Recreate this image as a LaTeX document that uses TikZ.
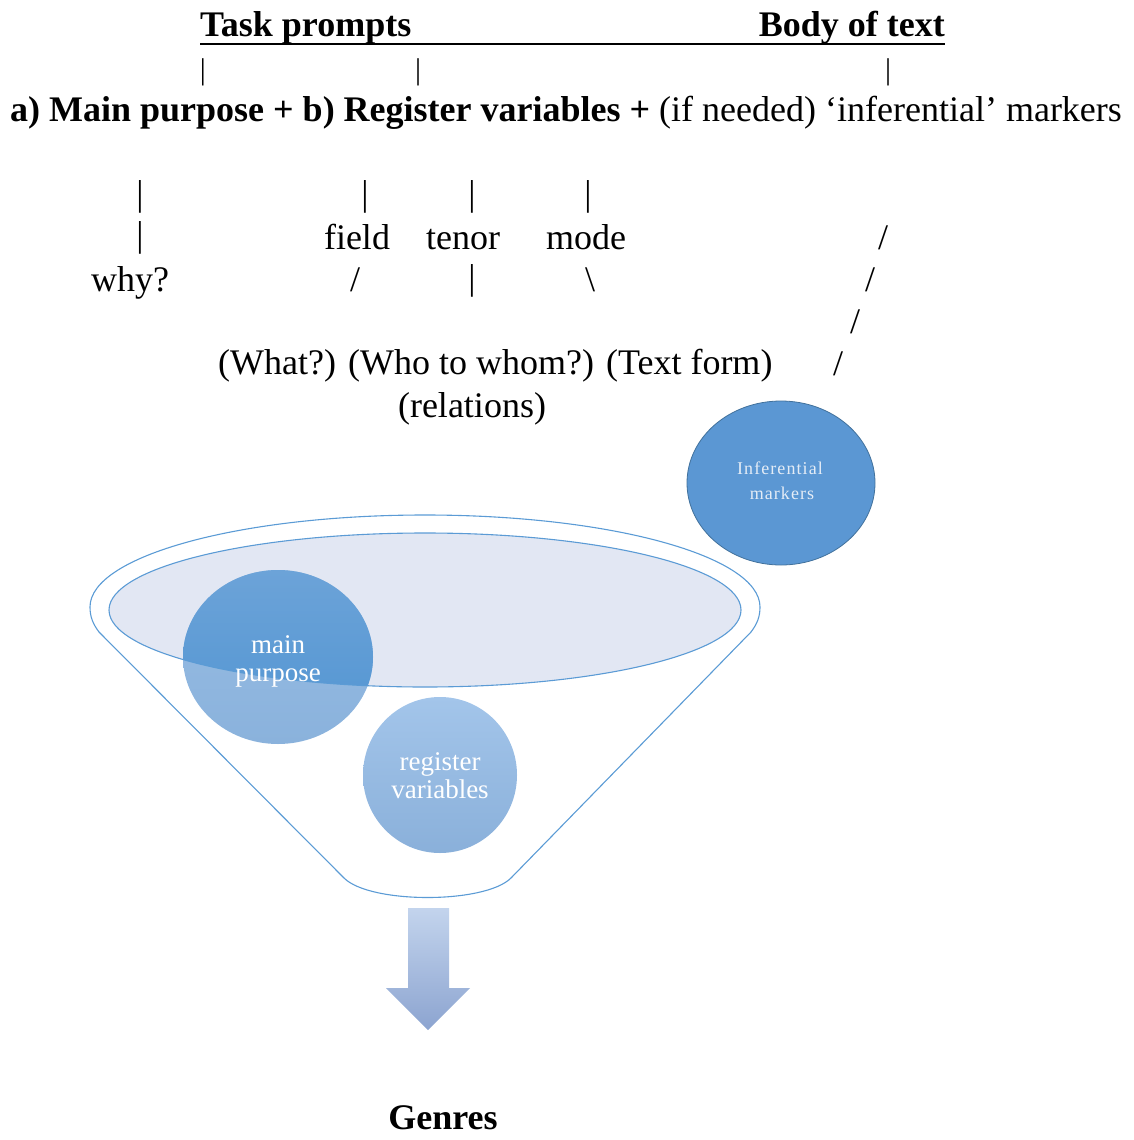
\documentclass[tikz,border=0pt]{standalone}
\usepackage{fontspec}
\setmainfont{Liberation Serif}
\newfontfamily\inffont[LetterSpace=6]{Liberation Serif}
\definecolor{fblue}{RGB}{91,155,213}
\definecolor{infill}{RGB}{91,151,211}
\definecolor{inedge}{RGB}{65,113,156}
\definecolor{ellfill}{RGB}{226,231,243}
\definecolor{mpdark}{RGB}{80,148,210}
\definecolor{mpdarktop}{RGB}{108,163,216}
\definecolor{mplight}{RGB}{152,189,228}
\definecolor{mplightb}{RGB}{138,178,220}
\definecolor{rvtop}{RGB}{163,197,234}
\definecolor{rvbot}{RGB}{138,176,218}
\definecolor{artop}{RGB}{195,212,237}
\definecolor{arbot}{RGB}{140,164,208}
\begin{document}
\begin{tikzpicture}[x=1pt,y=-1pt,
  txt/.style={font=\fontsize{36}{40}\selectfont, inner sep=0pt, anchor=base},
  bar/.style={font=\fontsize{36}{40}\selectfont, inner sep=0pt, anchor=base},
  topbar/.style={font=\fontsize{30}{34}\selectfont, inner sep=0pt, anchor=base},
  intxt/.style={font=\fontsize{27}{30}\selectfont, text=white, inner sep=0pt, anchor=base},
  smalltxt/.style={font=\fontsize{18}{20}\selectfont\inffont, text={rgb,255:red,228;green,236;blue,246}, inner sep=0pt, anchor=base},
  funnelline/.style={draw=fblue, line width=1.1pt}
]
\useasboundingbox (0,0) rectangle (1133,1140);

% ---- headers
\node[txt, anchor=base west, font=\fontsize{36}{40}\selectfont\bfseries] (tp) at (200,37) {Task prompts};
\node[txt, anchor=base east, font=\fontsize{36}{40}\selectfont\bfseries] (bt) at (945,37) {Body of text};
\coordinate (ul1) at (200,44);
\coordinate (ul2) at (945,44);
\draw[line width=1.5pt] (ul1) -- (ul2);

\node[topbar] (t1) at (203,79) {|};
\node[topbar] (t2) at (418,79) {|};
\node[topbar] (t3) at (888,79) {|};

\node[txt, anchor=base west] (mainline) at (10,121) {\textbf{a) Main purpose + b) Register variables +} (if needed) ‘inferential’ markers};

% ---- second level
\node[bar] (b1) at (140,205) {|};
\node[bar] (b2) at (365,205) {|};
\node[bar] (b3) at (472,205) {|};
\node[bar] (b4) at (588,205) {|};
\node[bar] (b5) at (140,246) {|};
\node[txt] (field) at (357,249) {field};
\node[txt] (tenor) at (463,249) {tenor};
\node[txt] (mode) at (586,249) {mode};
\node[bar] (s1) at (883,249) {/};
\node[txt] (why) at (130,291) {why?};
\node[bar] (s2) at (355,291) {/};
\node[bar] (b6) at (472,289) {|};
\node[bar] (s3) at (590,291) {\textbackslash};
\node[bar] (s4) at (870,291) {/};
\node[bar] (s5) at (855,333) {/};
\node[txt, anchor=base west] (what) at (218,374) {(What?) (Who to whom?) (Text form)};
\node[bar] (s6) at (838,375) {/};
\node[txt] (rel) at (472,417) {(relations)};

% ---- inferential markers circle
\draw[fill=infill, draw=inedge, line width=0.8pt] (781,483) ellipse [x radius=94, y radius=82];
\node[smalltxt] (inf1) at (780,474) {Inferential};
\node[smalltxt] (inf2) at (782,499) {markers};

% ---- funnel outline
\draw[funnelline]
  (90,607) .. controls (90,556) and (240,515) .. (425,515)
  .. controls (610,515) and (760,556) .. (760,607)
  .. controls (760,617) and (757,624) .. (751,632)
  -- (511,878)
  .. controls (485,904) and (370,904) .. (344,878)
  -- (99,632)
  .. controls (93,624) and (90,617) .. (90,607) -- cycle;

% inner ellipse fill
\fill[ellfill] (425,610) ellipse [x radius=316, y radius=77];

% main purpose circle: light part
\shade[top color=mplight, bottom color=mplightb] (278,657) ellipse [x radius=95, y radius=87];
% darker part inside ellipse
\begin{scope}
  \clip (425,610) ellipse [x radius=316, y radius=77];
  \shade[top color=mpdarktop, bottom color=mpdark] (278,657) ellipse [x radius=95, y radius=87];
\end{scope}
% inner ellipse border
\draw[draw=fblue, line width=1.1pt] (425,610) ellipse [x radius=316, y radius=77];

\node[intxt] (mp1) at (278,653) {main};
\node[intxt] (mp2) at (278,681) {purpose};

% register variables circle
\shade[top color=rvtop, bottom color=rvbot] (440,775) ellipse [x radius=77, y radius=78];
\node[intxt] (rv1) at (440,770) {register};
\node[intxt] (rv2) at (440,798) {variables};

% ---- arrow
\shade[top color=artop, bottom color=arbot]
  (408,908) -- (449,908) -- (449,988) -- (470,988) -- (428,1030) -- (386,988) -- (408,988) -- cycle;

\node[txt, font=\fontsize{36}{40}\selectfont\bfseries] (genres) at (443,1129) {Genres};
\end{tikzpicture}
\end{document}
